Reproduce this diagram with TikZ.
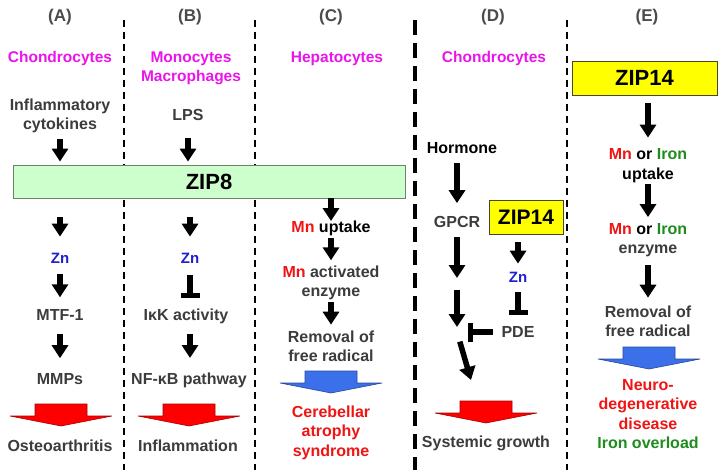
\documentclass[tikz,border=0pt]{standalone}
\usepackage{fontspec}
\setmainfont{Liberation Sans}
\usetikzlibrary{arrows.meta}

\definecolor{txtgray}{RGB}{60,60,60}
\definecolor{hdrgray}{RGB}{75,75,75}
\definecolor{cellmag}{RGB}{235,20,235}
\definecolor{mnred}{RGB}{240,20,20}
\definecolor{irongreen}{RGB}{30,140,30}
\definecolor{znblue}{RGB}{30,30,210}
\definecolor{zipgreen}{RGB}{204,255,204}
\definecolor{zipedge}{RGB}{110,130,110}
\definecolor{zipyellow}{RGB}{255,255,0}
\definecolor{zipedgeY}{RGB}{70,70,40}
\definecolor{blkred}{RGB}{255,0,0}
\definecolor{blkblue}{RGB}{60,112,235}

\newcommand{\downblock}[3]{%
  \draw[blk,draw=#3!65!black,fill=#3] (#1-26,#2) -- (#1+26,#2) -- (#1+26,#2+12) -- (#1+51,#2+12)
    -- (#1,#2+22) -- (#1-51,#2+12) -- (#1-26,#2+12) -- cycle;}

\begin{document}
\begin{tikzpicture}
[x=1pt,y=-1pt,
 every node/.style={inner sep=0pt,align=center,text=txtgray,font=\bfseries\fontsize{16}{19.5}\selectfont},
 hdr/.style={text=hdrgray,font=\bfseries\fontsize{17}{20}\selectfont},
 cell/.style={text=cellmag,font=\bfseries\fontsize{15.5}{19}\selectfont},
 zn/.style={text=znblue,font=\bfseries\fontsize{15}{18}\selectfont},
 zipbox/.style={line width=0.9pt,text=black,font=\bfseries\fontsize{22}{24}\selectfont},
 fat/.style={line width=5.5pt,-{Triangle[length=13pt,width=16pt]}},
 blunt/.style={line width=5.5pt,-{Bar[width=19pt,line width=5pt]}},
 thindash/.style={line width=1.6pt,dash pattern=on 7pt off 5pt},
 thickdash/.style={line width=4pt,dash pattern=on 15pt off 8pt},
 blk/.style={line width=0.6pt}]

  \useasboundingbox (0,0) rectangle (722,470);
  \fill[white] (0,0) rectangle (722,470);

  \draw[thindash] (124,20) -- (124,470);
  \draw[thindash] (255,20) -- (255,470);
  \draw[thickdash] (415,20) -- (415,470);
  \draw[thindash] (567,20) -- (567,470);

  \node[hdr] (hdrA) at (60,17)  {(A)};
  \node[hdr] (hdrB) at (190,17) {(B)};
  \node[hdr] (hdrC) at (331,17) {(C)};
  \node[hdr] (hdrD) at (493,17) {(D)};
  \node[hdr] (hdrE) at (647,17) {(E)};

  \node[cell] (cellA) at (60,58.5)  {Chondrocytes};
  \node[cell] (cellB) at (191,68)   {Monocytes\\Macrophages};
  \node[cell] (cellC) at (337,58.5) {Hepatocytes};
  \node[cell] (cellD) at (494,58.5) {Chondrocytes};

  \node (cytoA) at (60,115.7) {Inflammatory\\cytokines};
  \node (lpsB)  at (188,115)  {LPS};
  \node[zipbox,draw=zipedge,fill=zipgreen,minimum width=392pt,minimum height=33pt] (zip8) at (209,181.5) {ZIP8};

  \node[zn] (znA) at (60,258) {Zn};
  \node (mtfA) at (60,315)  {MTF-1};
  \node (mmpA) at (60,379)  {MMPs};
  \node (oaA)  at (60,446)  {Osteoarthritis};

  \node[zn] (znB) at (190,258) {Zn};
  \node (ikkB)  at (186,316.7) {IκK activity};
  \node (nfkbB) at (189,380.7) {NF-κB pathway};
  \node (inflB) at (188,446)   {Inflammation};

  \node (mnupC)  at (331,228.7) {{\color{mnred}Mn} {\color{black}uptake}};
  \node (mnactC) at (331,282.7) {{\color{mnred}Mn} activated\\enzyme};
  \node (remC)   at (331,346.5) {Removal of\\free radical};
  \node[text=mnred] (cereC) at (331,432.7) {Cerebellar\\atrophy\\syndrome};

  \node[text=black] (hormD) at (462,148) {Hormone};
  \node (gpcrD) at (457,222) {GPCR};
  \node[zipbox,draw=zipedgeY,fill=zipyellow,minimum width=74pt,minimum height=34pt,font=\bfseries\fontsize{21}{24}\selectfont] (zip14D) at (526,217) {ZIP14};
  \node[zn] (znD) at (518,277) {Zn};
  \node (pdeD)  at (518,332)   {PDE};
  \node (growD) at (486,443.7) {Systemic growth};
  \coordinate (jD1) at (457,284);
  \coordinate (jD2) at (457,332);
  \coordinate (jD3) at (471,380);

  \node[zipbox,draw=zipedgeY,fill=zipyellow,minimum width=145pt,minimum height=34pt] (zip14E) at (644.5,78) {ZIP14};
  \node (mnE)  at (648,165.7) {{\color{mnred}Mn} {\color{black}or} {\color{irongreen}Iron}\\{\color{black}uptake}};
  \node (enzE) at (648,240.2) {{\color{mnred}Mn} {\color{black}or} {\color{irongreen}Iron}\\enzyme};
  \node (remE) at (648,321.5) {Removal of\\free radical};
  \node[text=mnred] (neuroE) at (648,414) {Neuro-\\degenerative\\disease\\{\color{irongreen}Iron overload}};

  \foreach \from/\to/\sa/\sb in {
      cytoA/cytoA |- zip8.north/6/3,
      lpsB/lpsB |- zip8.north/17/3,
      znA |- zip8.south/znA/19/16,
      znA/mtfA/11/12,
      mtfA/mmpA/13/15,
      znB |- zip8.south/znB/19/16,
      znB |- ikkB/znB |- nfkbB/17.3/22.7,
      mnupC |- zip8.south/mnupC/0/0,
      mnupC/mnactC/2/5,
      mnactC/remC/2/6,
      gpcrD |- hormD/gpcrD/15/13,
      gpcrD/jD1/9/6,
      jD1/jD2/6/5,
      jD2/jD3/10/0,
      znD |- zip14D.south/znD/8/8,
      zip14E.south -| mnE/mnE/8/11,
      mnE/enzE/1/6,
      enzE/remE/8/8}
    \draw[fat,shorten <=\sa pt,shorten >=\sb pt] (\from) -- (\to);

  \foreach \from/\to/\sa/\sb in {
      znB/znB |- ikkB/11.5/18.7,
      znD/pdeD/9.6/11,
      pdeD/jD2/8.6/11}
    \draw[blunt,shorten <=\sa pt,shorten >=\sb pt] (\from) -- (\to);

  \downblock{61}{404}{blkred}
  \downblock{189}{404}{blkred}
  \downblock{331}{371}{blkblue}
  \downblock{486}{401}{blkred}
  \downblock{649}{347}{blkblue}

\end{tikzpicture}
\end{document}
